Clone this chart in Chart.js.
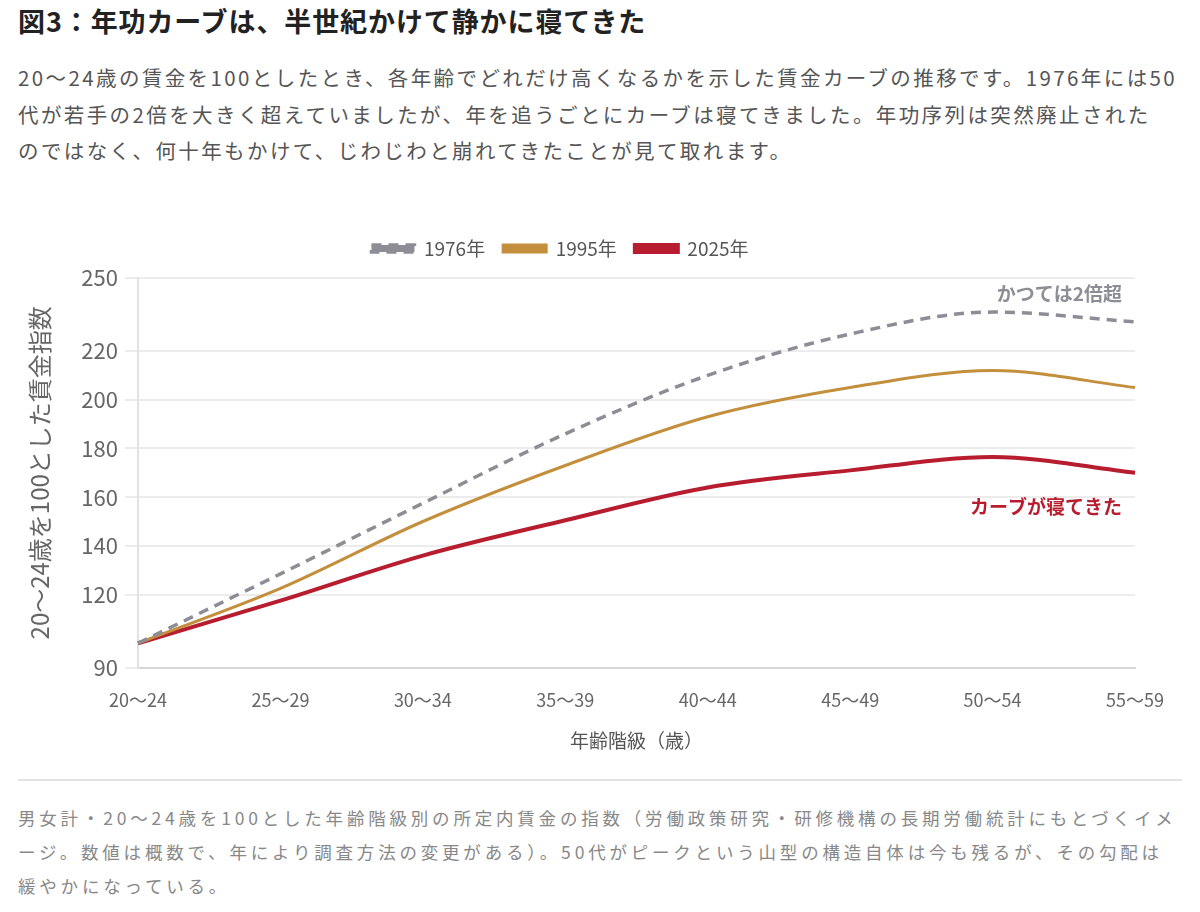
<!DOCTYPE html>
<html lang="ja">
<head>
<meta charset="utf-8">
<script src="https://cdn.jsdelivr.net/npm/chart.js@4.4.1/dist/chart.umd.min.js"></script>
<style>
  html, body { margin: 0; padding: 0; background: #fff; overflow: hidden; }
  body { width: 1200px; height: 912px; position: relative; font-family: "Noto Sans CJK JP", "Noto Sans", sans-serif; }
  .title { position: absolute; left: 18px; top: 1px; font-size: 27px; font-weight: 700; color: #222; white-space: nowrap; letter-spacing: 0.9px; }
  .lead { position: absolute; left: 18px; top: 59px; font-size: 20.5px; line-height: 36.5px; color: #555; white-space: nowrap; letter-spacing: 2.4px; }
  .chart-wrap { position: absolute; left: -42px; top: 221px; width: 1220px; height: 531px; }
  .rule { position: absolute; left: 18px; top: 779px; width: 1164px; height: 2px; background: #e2e2e2; }
  .note { position: absolute; left: 18px; top: 801px; font-size: 17.5px; line-height: 34px; color: #888; white-space: nowrap; letter-spacing: 3.8px; }
</style>
</head>
<body>
<div class="title">図3：年功カーブは、半世紀かけて静かに寝てきた</div>
<div class="lead">20〜24歳の賃金を100としたとき、各年齢でどれだけ高くなるかを示した賃金カーブの推移です。1976年には50<br>代が若手の2倍を大きく超えていましたが、年を追うごとにカーブは寝てきました。年功序列は突然廃止された<br>のではなく、何十年もかけて、じわじわと崩れてきたことが見て取れます。</div>
<div class="chart-wrap"><canvas id="wage-chart"></canvas></div>
<div class="rule"></div>
<div class="note">男女計・20〜24歳を100とした年齢階級別の所定内賃金の指数（労働政策研究・研修機構の長期労働統計にもとづくイメ<br>ージ。数値は概数で、年により調査方法の変更がある）。50代がピークという山型の構造自体は今も残るが、その勾配は<br>緩やかになっている。</div>

<script>
const ageGroups = ["20〜24", "25〜29", "30〜34", "35〜39", "40〜44", "45〜49", "50〜54", "55〜59"];
const wage1976 = [100, 128.5, 157.5, 186, 210, 227, 236, 232];
const wage1995 = [100, 122.5, 150, 173, 193, 205, 212, 205];
const wage2025 = [100, 117.5, 136, 150.5, 164, 171, 176.5, 170];
const yTicks = [90, 120, 140, 160, 180, 200, 220, 250];

const fontFamily = "'Noto Sans CJK JP', 'Noto Sans', sans-serif";

// text notes drawn next to the curves
const noteLabels = {
  id: "noteLabels",
  afterDatasetsDraw(chart) {
    const ctx = chart.ctx;
    const area = chart.chartArea;
    const y = chart.scales.y;
    ctx.save();
    ctx.textAlign = "right";
    ctx.textBaseline = "middle";
    ctx.font = `bold 19px ${fontFamily}`;
    ctx.fillStyle = "#8d8d96";
    ctx.fillText("かつては2倍超", area.right - 13, y.getPixelForValue(243.5));
    ctx.fillStyle = "#b81d2f";
    ctx.fillText("カーブが寝てきた", area.right - 13, y.getPixelForValue(156));
    ctx.restore();
  },
};

// a bit more room under the legend, and move it left over the page
const legendPlace = {
  id: "legendPlace",
  beforeLayout(chart) {
    const legend = chart.legend;
    if (legend && !legend._patched) {
      const fit = legend.fit;
      legend.fit = function () {
        fit.call(this);
        this.height += 10;
      };
      legend._patched = true;
    }
  },
  afterLayout(chart) {
    const legend = chart.legend;
    const dx = 602 - (legend.left + legend.right) / 2;
    legend.left += dx;
    legend.right += dx;
  },
};

const canvas = document.getElementById("wage-chart");
new Chart(canvas, {
  type: "line",
  data: {
    labels: ageGroups,
    datasets: [
      {
        label: "1976年",
        data: wage1976,
        borderColor: "#8d8d96",
        backgroundColor: "#8d8d96",
        borderWidth: 3.5,
        borderDash: [10, 7],
        pointRadius: 0,
        cubicInterpolationMode: "monotone",
      },
      {
        label: "1995年",
        data: wage1995,
        borderColor: "#c38f3d",
        backgroundColor: "#c38f3d",
        borderWidth: 3,
        pointRadius: 0,
        cubicInterpolationMode: "monotone",
      },
      {
        label: "2025年",
        data: wage2025,
        borderColor: "#b81d2f",
        backgroundColor: "#b81d2f",
        borderWidth: 4,
        pointRadius: 0,
        cubicInterpolationMode: "monotone",
      },
    ],
  },
  options: {
    responsive: true,
    maintainAspectRatio: false,
    animation: false,
    layout: { padding: { left: 67, right: 0, top: 0, bottom: 0 } },
    plugins: {
      legend: {
        position: "top",
        labels: {
          boxWidth: 43,
          boxHeight: 7,
          padding: 18,
          color: "#555",
          font: { family: fontFamily, size: 19 },
        },
      },
      tooltip: { enabled: false },
    },
    scales: {
      x: {
        grid: { display: false },
        border: { display: true, color: "#d6d6d6", width: 2 },
        ticks: {
          padding: 14,
          color: "#666",
          font: { family: fontFamily, size: 18 },
          maxRotation: 0,
        },
        title: {
          display: true,
          text: "年齢階級（歳）",
          color: "#555",
          font: { family: fontFamily, size: 19 },
          padding: { top: 4, bottom: 0 },
        },
      },
      y: {
        min: 90,
        max: 250,
        afterBuildTicks: (scale) => {
          scale.ticks = yTicks.map((v) => ({ value: v }));
        },
        afterFit: (scale) => {
          scale.width = 113;
        },
        grid: { color: "#ececec", lineWidth: 2, tickLength: 13 },
        border: { display: true, color: "#e2e2e2", width: 2 },
        ticks: {
          padding: 7,
          color: "#666",
          font: { family: fontFamily, size: 22 },
        },
        title: {
          display: true,
          text: "20〜24歳を100とした賃金指数",
          color: "#666",
          font: { family: fontFamily, size: 24 },
          padding: { top: 0, bottom: 0 },
        },
      },
    },
  },
  plugins: [noteLabels, legendPlace],
});
</script>
</body>
</html>
